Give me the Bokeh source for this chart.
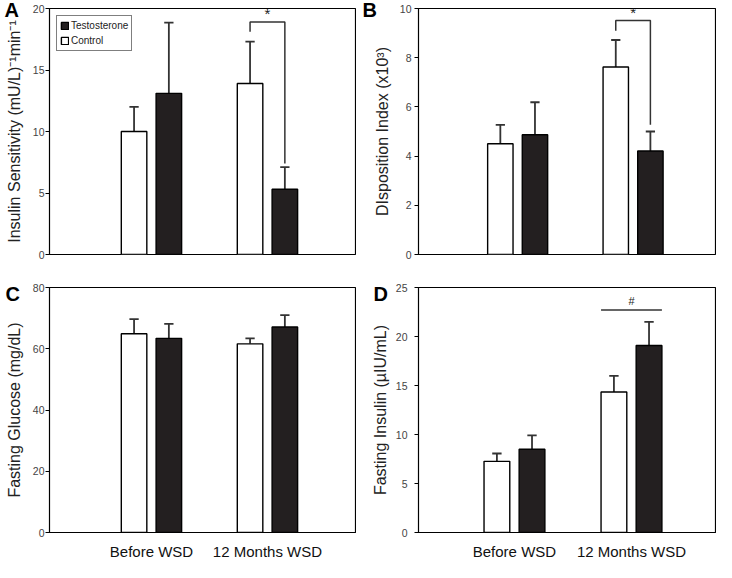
from bokeh.plotting import figure
from bokeh.models import Range1d, FixedTicker, Label, Legend, LegendItem, ColumnDataSource, Title
from bokeh.layouts import gridplot
from bokeh.embed import file_html
from bokeh.resources import INLINE

# ---------------- data ----------------
categories = ["Before WSD", "12 Months WSD"]
group_x = [1, 2]
series = ["Testosterone", "Control"]

# A: Insulin sensitivity
a_control = [10.0, 13.9]
a_control_err = [2.0, 3.4]
a_testo = [13.1, 5.3]
a_testo_err = [5.75, 1.8]
a_ticks = [0, 5, 10, 15, 20]
a_bracket = [18.1, 18.9, 7.4]   # left end, top, right end

# B: Disposition index
b_control = [4.5, 7.62]
b_control_err = [0.77, 1.1]
b_testo = [4.87, 4.21]
b_testo_err = [1.32, 0.79]
b_ticks = [0, 2, 4, 6, 8, 10]
b_bracket = [9.1, 9.51, 5.27]

# C: Fasting glucose
c_control = [64.9, 61.6]
c_control_err = [4.8, 1.8]
c_testo = [63.4, 67.1]
c_testo_err = [4.7, 3.9]
c_ticks = [0, 20, 40, 60, 80]

# D: Fasting insulin
d_control = [7.26, 14.34]
d_control_err = [0.8, 1.65]
d_testo = [8.5, 19.08]
d_testo_err = [1.41, 2.42]
d_ticks = [0, 5, 10, 15, 20, 25]
d_hash = [22.7]

OFF = 0.15
BW = 0.22
CAP = 0.04
FONT = "Liberation Sans"


def panel(letter, control, control_err, testo, testo_err, ticks, y_label,
          x_start, x_end, width, height, bl, br, bt, bb, show_x,
          letter_dx, letter_standoff, tick_standoff, title_standoff):
    p = figure(width=width, height=height,
               x_range=Range1d(x_start, x_end), y_range=Range1d(ticks[0], ticks[-1]),
               output_backend="svg", toolbar_location=None, tools="",
               min_border_left=bl, min_border_right=br,
               min_border_top=bt, min_border_bottom=bb)
    p.grid.visible = False
    p.outline_line_color = "black"
    p.outline_line_width = 1.2
    p.background_fill_color = "white"
    p.border_fill_color = "white"

    xc = [g - OFF for g in group_x]
    xt = [g + OFF for g in group_x]
    src_c = ColumnDataSource(dict(x=xc, top=control,
                                  etop=[v + e for v, e in zip(control, control_err)]))
    src_t = ColumnDataSource(dict(x=xt, top=testo,
                                  etop=[v + e for v, e in zip(testo, testo_err)]))
    for src in (src_c, src_t):
        p.segment(x0="x", y0="top", x1="x", y1="etop", source=src,
                  line_color="#333333", line_width=1.8)
        src.data["xl"] = [x - CAP for x in src.data["x"]]
        src.data["xr"] = [x + CAP for x in src.data["x"]]
        p.segment(x0="xl", y0="etop", x1="xr", y1="etop", source=src,
                  line_color="#333333", line_width=1.8)
    rc = p.vbar(x="x", top="top", width=BW, source=src_c,
                fill_color="white", line_color="black", line_width=1.4)
    rt = p.vbar(x="x", top="top", width=BW, source=src_t,
                fill_color="#231f20", line_color="black", line_width=1.4)

    ya = p.yaxis[0]
    ya.ticker = FixedTicker(ticks=ticks)
    ya.axis_label = y_label
    ya.axis_label_text_font = FONT
    ya.axis_label_text_font_size = "16px"
    ya.axis_label_text_font_style = "normal"
    ya.axis_label_text_color = "#222222"
    ya.axis_label_standoff = title_standoff
    ya.major_label_text_font = FONT
    ya.major_label_text_font_size = "10.5px"
    ya.major_label_text_color = "#444444"
    ya.major_label_standoff = tick_standoff
    ya.major_tick_out = 4
    ya.major_tick_in = 0
    ya.minor_tick_out = 0
    ya.minor_tick_in = 0
    ya.axis_line_color = "black"
    ya.major_tick_line_color = "black"

    xa = p.xaxis[0]
    if show_x:
        xa.ticker = FixedTicker(ticks=group_x)
        xa.major_label_overrides = {g: c for g, c in zip(group_x, categories)}
        xa.major_label_text_font = FONT
        xa.major_label_text_font_size = "15px"
        xa.major_label_text_color = "#111111"
        xa.major_label_standoff = 10
        xa.major_tick_out = 0
        xa.major_tick_in = 0
        xa.minor_tick_out = 0
        xa.minor_tick_in = 0
        xa.axis_line_color = "black"
    else:
        xa.visible = False

    p.add_layout(Title(text=letter, align="left", offset=letter_dx, standoff=letter_standoff,
                       text_font=FONT, text_font_size="20px", text_font_style="bold",
                       text_color="black"), "above")
    return p, rc, rt, xc, xt


def bracket(p, xl, xr, levels, mark):
    lo_l, top, lo_r = levels
    p.line(x=[xl, xl, xr, xr], y=[lo_l, top, top, lo_r], line_color="#333333", line_width=1.5)
    p.add_layout(Label(x=(xl + xr) / 2, y=top, y_offset=0, text=mark, text_font=FONT,
                       text_font_size="15px", text_align="center", text_baseline="bottom",
                       text_color="#222222"))


pa, rca, rta, xca, xta = panel("A", a_control, a_control_err, a_testo, a_testo_err, a_ticks,
                               "Insulin Sensitivity (mU/L)\u207b\u00b9min\u207b\u00b9",
                               0.121, 2.759, 356, 270, 49, 1, 8, 16, False, -45, -25, 1, 7)
bracket(pa, xca[1], xta[1], a_bracket, "*")
legend = Legend(items=[LegendItem(label=series[0], renderers=[rta]),
                       LegendItem(label=series[1], renderers=[rca])],
                location="top_left", margin=7, padding=3, spacing=2,
                glyph_width=9, glyph_height=9, label_height=13, label_standoff=2,
                label_text_font=FONT, label_text_font_size="10px",
                label_text_color="#222222",
                border_line_color="black", border_line_width=1.2,
                background_fill_color="white", background_fill_alpha=1.0)
pa.add_layout(legend)

pb, rcb, rtb, xcb, xtb = panel("B", b_control, b_control_err, b_testo, b_testo_err, b_ticks,
                               "DIsposition Index (x10\u00b3)",
                               0.141, 2.714, 360, 270, 58, 1, 8, 16, False, -56, -25, 3, 6)
bracket(pb, xcb[1], xtb[1], b_bracket, "*")

pc, rcc, rtc, xcc, xtc = panel("C", c_control, c_control_err, c_testo, c_testo_err, c_ticks,
                               "Fasting Glucose (mg/dL)",
                               0.121, 2.759, 356, 292, 49, 1, 17, 28, True, -44, -34, 1, 7)

pd_, rcd, rtd, xcd, xtd = panel("D", d_control, d_control_err, d_testo, d_testo_err, d_ticks,
                                "Fasting Insulin (\u00b5IU/mL)",
                                0.18, 2.718, 360, 292, 62, 1, 17, 28, True, -45, -34, 7, 4)
hx0 = xcd[1] - BW / 2
hx1 = xtd[1] + BW / 2
pd_.line(x=[hx0, hx1], y=[d_hash[0], d_hash[0]], line_color="#333333", line_width=1.5)
pd_.add_layout(Label(x=(hx0 + hx1) / 2, y=d_hash[0], y_offset=3, text="#", text_font=FONT,
                     text_font_size="11px", text_align="center", text_baseline="bottom",
                     text_color="#222222"))

grid = gridplot([[pa, pb], [pc, pd_]], toolbar_location=None)

open("out.html", "w").write(file_html(grid, INLINE))
